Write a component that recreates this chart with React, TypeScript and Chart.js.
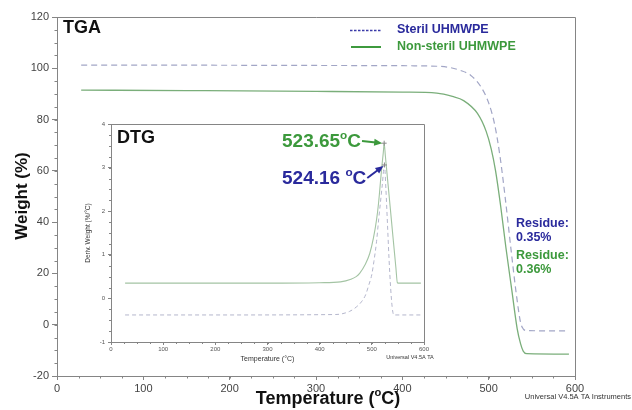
import { useEffect, useRef } from 'react';
import { Chart, registerables } from 'chart.js';

Chart.register(...registerables);

const FONT = '"Liberation Sans", Arial, Helvetica, sans-serif';

// ---- TGA: weight (%) against temperature (°C) ----
const sterilTempTGA = [28, 150, 300, 400, 440, 455, 467, 479, 491, 500, 507, 513, 519, 526, 532, 537, 540, 544, 593];
const sterilWeight = [101.2, 101.2, 101.1, 101.0, 100.8, 100.3, 99.2, 97.3, 92.8, 86.5, 78, 66, 50, 29, 12, 0.8, -1.6, -2.3, -2.4];

const nonSterilTempTGA = [28, 150, 300, 400, 440, 458, 471, 487, 497, 503, 508, 514, 520, 527, 533, 537, 540, 544, 593];
const nonSterilWeight = [91.5, 91.3, 91.0, 90.7, 90.3, 89.0, 87.4, 82.4, 75.5, 68.5, 60, 46, 30, 13, -1.5, -7.5, -10.3, -11.3, -11.5];

// ---- DTG: derivative weight (%/°C) against temperature (°C) ----
const sterilTempDTG = [27, 200, 430, 457, 470, 480, 488, 494, 500, 504, 509, 513, 516.5, 520, 524.16, 527, 530, 533, 536, 539, 542, 594];
const sterilDeriv = [-0.38, -0.38, -0.37, -0.3, -0.2, -0.08, 0.08, 0.3, 0.55, 0.85, 1.3, 1.8, 2.2, 2.6, 3.06, 2.5, 1.7, 0.9, 0.25, -0.2, -0.38, -0.38];

const nonSterilTempDTG = [27, 300, 400, 440, 460, 470, 477, 487, 496, 503, 509, 513, 516, 519, 522, 523.65, 526, 529, 535, 541, 546, 549, 552, 594];
const nonSterilDeriv = [0.35, 0.35, 0.36, 0.38, 0.44, 0.5, 0.58, 0.77, 1.03, 1.38, 1.8, 2.2, 2.6, 3.0, 3.35, 3.56, 3.26, 2.88, 2.12, 1.35, 0.72, 0.36, 0.35, 0.35];

// Peak temperatures and residues
const peakSteril = { t: 524.16, d: 3.06 };
const peakNonSteril = { t: 523.65, d: 3.56 };
const residueSteril = '0.35%';
const residueNonSteril = '0.36%';

// Axis ticks
const tempTicks = [0, 100, 200, 300, 400, 500, 600];
const weightTicks = [-20, 0, 20, 40, 60, 80, 100, 120];
const derivTicks = [-1, 0, 1, 2, 3, 4];

const BLUE_TEXT = '#2a2a9c';
const GREEN_TEXT = '#3c993c';
const STERIL_LINE = '#a2a6c6';
const NONSTERIL_LINE = '#7aae7a';
const STERIL_DTG = '#b4b6cc';
const NONSTERIL_DTG = '#a4c4a4';
const AXIS = '#858585';

type Seg = { t: string; sup?: boolean };

function drawSegs(
  ctx: CanvasRenderingContext2D,
  segs: Seg[],
  x: number,
  y: number,
  size: number,
  weight: string,
  color: string,
  align: 'left' | 'center' | 'right' = 'left'
): number {
  const full = `${weight} ${size}px ${FONT}`;
  const small = `${weight} ${size * 0.62}px ${FONT}`;
  let w = 0;
  for (const s of segs) {
    ctx.font = s.sup ? small : full;
    w += ctx.measureText(s.t).width;
  }
  let cx = align === 'center' ? x - w / 2 : align === 'right' ? x - w : x;
  ctx.fillStyle = color;
  ctx.textAlign = 'left';
  ctx.textBaseline = 'alphabetic';
  for (const s of segs) {
    ctx.font = s.sup ? small : full;
    ctx.fillText(s.t, cx, s.sup ? y - size * 0.4 : y);
    cx += ctx.measureText(s.t).width;
  }
  return cx;
}

function drawArrow(ctx: CanvasRenderingContext2D, x1: number, y1: number, x2: number, y2: number, color: string) {
  const a = Math.atan2(y2 - y1, x2 - x1);
  const head = 8;
  const half = 3.5;
  ctx.save();
  ctx.strokeStyle = color;
  ctx.fillStyle = color;
  ctx.lineWidth = 2;
  ctx.setLineDash([]);
  ctx.beginPath();
  ctx.moveTo(x1, y1);
  ctx.lineTo(x2 - head * 0.8 * Math.cos(a), y2 - head * 0.8 * Math.sin(a));
  ctx.stroke();
  const bx = x2 - head * Math.cos(a);
  const by = y2 - head * Math.sin(a);
  ctx.beginPath();
  ctx.moveTo(x2, y2);
  ctx.lineTo(bx + half * Math.sin(a), by - half * Math.cos(a));
  ctx.lineTo(bx - half * Math.sin(a), by + half * Math.cos(a));
  ctx.closePath();
  ctx.fill();
  ctx.restore();
}

function drawFrame(chart: Chart, xStep: number, yStep: number, len: number) {
  const { ctx, chartArea } = chart;
  const { left, right, top, bottom } = chartArea;
  const xs = chart.scales.x;
  const ys = chart.scales.y;
  ctx.save();
  ctx.strokeStyle = AXIS;
  ctx.lineWidth = 1;
  ctx.setLineDash([]);
  ctx.beginPath();
  ctx.moveTo(left, top + 0.5);
  ctx.lineTo(right + 0.5, top + 0.5);
  ctx.lineTo(right + 0.5, bottom);
  for (let v = xs.min + xStep; v < xs.max; v += xStep) {
    const px = Math.round(xs.getPixelForValue(v)) + 0.5;
    ctx.moveTo(px, bottom);
    ctx.lineTo(px, bottom + len);
  }
  for (let v = ys.min + yStep; v < ys.max; v += yStep) {
    const py = Math.round(ys.getPixelForValue(v)) + 0.5;
    ctx.moveTo(left - len, py);
    ctx.lineTo(left, py);
  }
  ctx.stroke();
  ctx.restore();
}

function toPoints(xs: number[], ys: number[]) {
  return xs.map((x, i) => ({ x, y: ys[i] }));
}

const tgaDecor = {
  id: 'tgaDecor',
  afterDraw(chart: Chart) {
    const ctx = chart.ctx;
    drawFrame(chart, 25, 5, 2.5);
    ctx.save();

    // panel label
    ctx.font = `bold 18px ${FONT}`;
    ctx.fillStyle = '#111';
    ctx.textAlign = 'left';
    ctx.textBaseline = 'middle';
    ctx.fillText('TGA', 63, 28);

    // legend
    ctx.lineWidth = 1.6;
    ctx.strokeStyle = '#3a3aa8';
    ctx.setLineDash([2.5, 1.5]);
    ctx.beginPath();
    ctx.moveTo(350, 30.5);
    ctx.lineTo(381, 30.5);
    ctx.stroke();
    ctx.setLineDash([]);
    ctx.strokeStyle = '#3e9a3e';
    ctx.lineWidth = 2;
    ctx.beginPath();
    ctx.moveTo(351, 47);
    ctx.lineTo(381, 47);
    ctx.stroke();
    ctx.font = `bold 12.5px ${FONT}`;
    ctx.fillStyle = BLUE_TEXT;
    ctx.fillText('Steril UHMWPE', 397, 30);
    ctx.fillStyle = GREEN_TEXT;
    ctx.fillText('Non-steril UHMWPE', 397, 47);

    // residues
    ctx.font = `bold 12.5px ${FONT}`;
    ctx.fillStyle = BLUE_TEXT;
    ctx.fillText('Residue:', 516, 224);
    ctx.fillText(residueSteril, 516, 238);
    ctx.fillStyle = GREEN_TEXT;
    ctx.fillText('Residue:', 516, 256);
    ctx.fillText(residueNonSteril, 516, 270);

    // axis titles
    ctx.fillStyle = '#111';
    ctx.font = `bold 17px ${FONT}`;
    ctx.save();
    ctx.translate(22, 196);
    ctx.rotate(-Math.PI / 2);
    ctx.textAlign = 'center';
    ctx.fillText('Weight (%)', 0, 0);
    ctx.restore();
    drawSegs(ctx, [{ t: 'Temperature (' }, { t: 'o', sup: true }, { t: 'C)' }], 328, 403.5, 18, 'bold', '#111', 'center');

    ctx.font = `7.5px ${FONT}`;
    ctx.fillStyle = '#333';
    ctx.textAlign = 'right';
    ctx.textBaseline = 'middle';
    ctx.fillText('Universal V4.5A TA Instruments', 631, 397);
    ctx.restore();
  },
};

const dtgDecor = {
  id: 'dtgDecor',
  afterDraw(chart: Chart) {
    const ctx = chart.ctx;
    const xs = chart.scales.x;
    const ys = chart.scales.y;
    drawFrame(chart, 25, 0.25, 2);
    ctx.save();

    ctx.font = `bold 18px ${FONT}`;
    ctx.fillStyle = '#111';
    ctx.textAlign = 'left';
    ctx.textBaseline = 'middle';
    ctx.fillText('DTG', 47, 23);

    // peak markers
    const gx = xs.getPixelForValue(peakNonSteril.t);
    const gy = ys.getPixelForValue(peakNonSteril.d);
    const bx = xs.getPixelForValue(peakSteril.t);
    const by = ys.getPixelForValue(peakSteril.d);
    ctx.strokeStyle = '#888';
    ctx.lineWidth = 1;
    ctx.beginPath();
    for (const [px, py] of [[gx, gy], [bx, by]]) {
      ctx.moveTo(px - 2.5, py);
      ctx.lineTo(px + 2.5, py);
      ctx.moveTo(px, py - 2.5);
      ctx.lineTo(px, py + 2.5);
    }
    ctx.stroke();

    // peak labels with arrows
    const gEnd = drawSegs(
      ctx,
      [{ t: peakNonSteril.t.toFixed(2) }, { t: 'o', sup: true }, { t: 'C' }],
      212, 31.5, 19, 'bold', GREEN_TEXT
    );
    drawArrow(ctx, gEnd + 1, 26, gx - 2, gy, GREEN_TEXT);
    const bEnd = drawSegs(
      ctx,
      [{ t: peakSteril.t.toFixed(2) + ' ' }, { t: 'o', sup: true }, { t: 'C' }],
      212, 68.5, 19, 'bold', BLUE_TEXT
    );
    drawArrow(ctx, bEnd + 1, 63, bx - 1, by + 1, BLUE_TEXT);

    // axis titles
    ctx.fillStyle = '#333';
    ctx.font = `6.5px ${FONT}`;
    ctx.save();
    ctx.translate(18, (chart.chartArea.top + chart.chartArea.bottom) / 2);
    ctx.rotate(-Math.PI / 2);
    ctx.textAlign = 'center';
    ctx.textBaseline = 'middle';
    ctx.fillText('Deriv. Weight (%/°C)', 0, 0);
    ctx.restore();
    ctx.font = `7px ${FONT}`;
    ctx.textAlign = 'center';
    ctx.textBaseline = 'middle';
    ctx.fillText('Temperature (°C)', (chart.chartArea.left + chart.chartArea.right) / 2, 244);
    ctx.font = `5.5px ${FONT}`;
    ctx.fillText('Universal V4.5A TA', 340, 242);
    ctx.restore();
  },
};

export default function App() {
  const mainRef = useRef<HTMLCanvasElement | null>(null);
  const insetRef = useRef<HTMLCanvasElement | null>(null);

  useEffect(() => {
    if (!mainRef.current || !insetRef.current) return;

    const tickFont = (size: number) => ({ family: FONT, size });

    const tga = new Chart(mainRef.current, {
      type: 'line',
      data: {
        datasets: [
          {
            label: 'Steril UHMWPE',
            data: toPoints(sterilTempTGA, sterilWeight),
            borderColor: STERIL_LINE,
            borderWidth: 1.2,
            borderDash: [6, 4],
            pointRadius: 0,
            cubicInterpolationMode: 'monotone',
          },
          {
            label: 'Non-steril UHMWPE',
            data: toPoints(nonSterilTempTGA, nonSterilWeight),
            borderColor: NONSTERIL_LINE,
            borderWidth: 1.3,
            pointRadius: 0,
            cubicInterpolationMode: 'monotone',
          },
        ],
      },
      options: {
        responsive: false,
        animation: false,
        devicePixelRatio: 1,
        layout: { padding: { top: 17, right: 57, left: 0, bottom: 0 } },
        plugins: { legend: { display: false }, tooltip: { enabled: false } },
        scales: {
          x: {
            type: 'linear',
            min: 0,
            max: 600,
            afterBuildTicks: (s: any) => {
              s.ticks = tempTicks.map((v) => ({ value: v }));
            },
            afterFit: (s: any) => {
              s.height = 34;
            },
            ticks: { font: tickFont(11), color: '#444', padding: 2, maxRotation: 0 },
            grid: { drawOnChartArea: false, tickLength: 4, color: AXIS },
            border: { color: AXIS },
          },
          y: {
            type: 'linear',
            min: -20,
            max: 120,
            afterBuildTicks: (s: any) => {
              s.ticks = weightTicks.map((v) => ({ value: v }));
            },
            afterFit: (s: any) => {
              s.width = 57;
            },
            ticks: { font: tickFont(11), color: '#444', padding: 3 },
            grid: { drawOnChartArea: false, tickLength: 5, color: AXIS },
            border: { color: AXIS },
          },
        },
      },
      plugins: [tgaDecor],
    } as any);

    const dtg = new Chart(insetRef.current, {
      type: 'line',
      data: {
        datasets: [
          {
            label: 'Steril UHMWPE',
            data: toPoints(sterilTempDTG, sterilDeriv),
            borderColor: STERIL_DTG,
            borderWidth: 1,
            borderDash: [4, 3],
            pointRadius: 0,
            cubicInterpolationMode: 'monotone',
          },
          {
            label: 'Non-steril UHMWPE',
            data: toPoints(nonSterilTempDTG, nonSterilDeriv),
            borderColor: NONSTERIL_DTG,
            borderWidth: 1.1,
            pointRadius: 0,
            cubicInterpolationMode: 'monotone',
          },
        ],
      },
      options: {
        responsive: false,
        animation: false,
        devicePixelRatio: 1,
        layout: { padding: { top: 9, right: 16, left: 0, bottom: 0 } },
        plugins: { legend: { display: false }, tooltip: { enabled: false } },
        scales: {
          x: {
            type: 'linear',
            min: 0,
            max: 600,
            afterBuildTicks: (s: any) => {
              s.ticks = tempTicks.map((v) => ({ value: v }));
            },
            afterFit: (s: any) => {
              s.height = 28;
            },
            ticks: { font: tickFont(6), color: '#555', padding: 1, maxRotation: 0 },
            grid: { drawOnChartArea: false, tickLength: 3, color: AXIS },
            border: { color: AXIS },
          },
          y: {
            type: 'linear',
            min: -1,
            max: 4,
            afterBuildTicks: (s: any) => {
              s.ticks = derivTicks.map((v) => ({ value: v }));
            },
            afterFit: (s: any) => {
              s.width = 41;
            },
            ticks: { font: tickFont(6), color: '#555', padding: 3 },
            grid: { drawOnChartArea: false, tickLength: 3, color: AXIS },
            border: { color: AXIS },
          },
        },
      },
      plugins: [dtgDecor],
    } as any);

    return () => {
      tga.destroy();
      dtg.destroy();
    };
  }, []);

  return (
    <div style={{ position: 'fixed', left: 0, top: 0, width: 632, height: 410, background: '#fff' }}>
      <canvas ref={mainRef} width={632} height={410} style={{ position: 'absolute', left: 0, top: 0, width: 632, height: 410 }} />
      <canvas ref={insetRef} width={370} height={255} style={{ position: 'absolute', left: 70, top: 115, width: 370, height: 255 }} />
    </div>
  );
}
